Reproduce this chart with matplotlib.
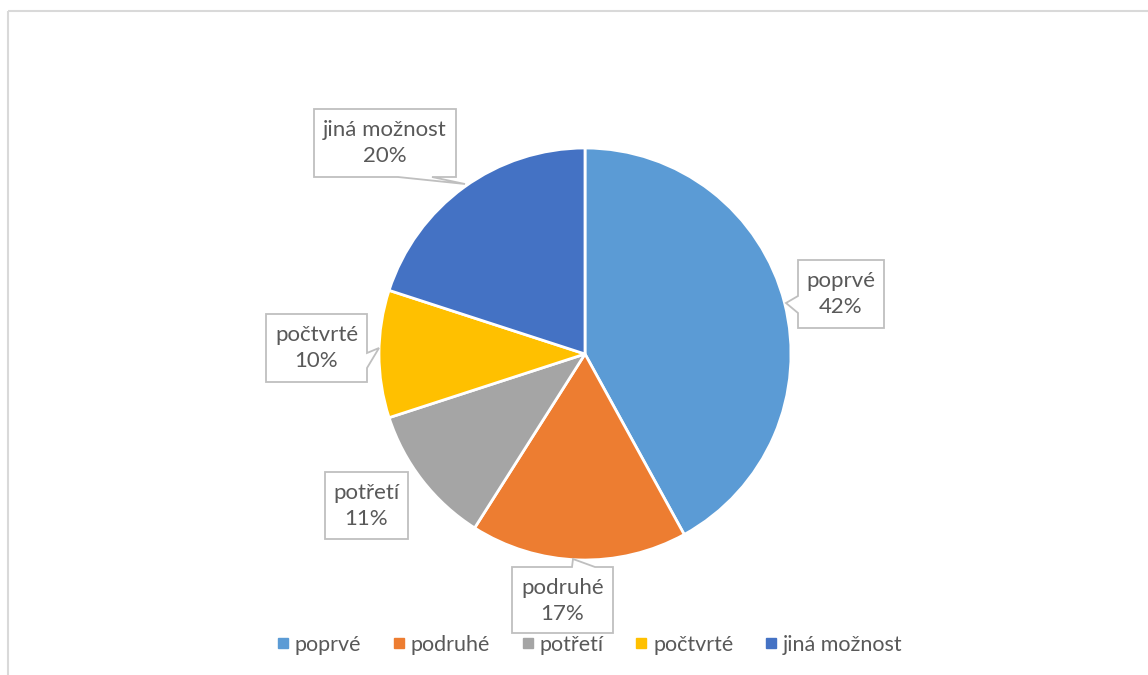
import matplotlib
matplotlib.use("Agg")
import matplotlib.pyplot as plt
from matplotlib.patches import Polygon
from matplotlib.lines import Line2D

categories = ["poprvé", "podruhé", "potřetí", "počtvrté", "jiná možnost"]
values = [42, 17, 11, 10, 20]
pct_labels = ["42%", "17%", "11%", "10%", "20%"]
colors = ["#5B9BD5", "#ED7D31", "#A5A5A5", "#FFC000", "#4472C4"]

W, H = 1148, 675
fig = plt.figure(figsize=(W / 100, H / 100), dpi=100)
ax = fig.add_axes([0, 0, 1, 1])

def py(y):
    return H - y

# chart border
ax.plot([8, W], [py(11), py(11)], color="#D9D9D9", lw=1.5, solid_capstyle="butt")
ax.plot([8, 8], [py(11), 0], color="#D9D9D9", lw=1.5, solid_capstyle="butt")

ax.pie(values, colors=colors, startangle=90, counterclock=False,
       center=(585, py(354)), radius=206, frame=True,
       wedgeprops=dict(edgecolor="white", linewidth=2))
ax.set_xlim(0, W)
ax.set_ylim(0, H)
ax.set_aspect("equal")
ax.axis("off")

FONT = "Lato"
TXT = "#595959"
FS = 16

# callout boxes: (x0, y0, x1, y1) in pixels, pointer spec
boxes = {
    "poprvé": ((798, 260, 884, 328), ("left", 296, 313, (786, 303))),
    "podruhé": ((512, 567, 613, 633), ("top", 572, 595, (573, 559))),
    "potřetí": ((325, 472, 408, 539), None),
    "počtvrté": ((266, 314, 367, 382), ("right", 353, 368, (379, 348))),
    "jiná možnost": ((314, 109, 456, 177), ("bottom", 398, 432, (465, 184))),
}

for cat, pct in zip(categories, pct_labels):
    (x0, y0, x1, y1), ptr = boxes[cat]
    pts = [(x0, y0), (x1, y0), (x1, y1), (x0, y1)]
    if ptr is not None:
        side, a, b, tip = ptr
        if side == "left":
            pts = [(x0, y0), (x1, y0), (x1, y1), (x0, y1), (x0, b), tip, (x0, a)]
        elif side == "right":
            pts = [(x0, y0), (x1, y0), (x1, a), tip, (x1, b), (x1, y1), (x0, y1)]
        elif side == "top":
            pts = [(x0, y0), (a, y0), tip, (b, y0), (x1, y0), (x1, y1), (x0, y1)]
        elif side == "bottom":
            pts = [(x0, y0), (x1, y0), (x1, y1), (b, y1), tip, (a, y1), (x0, y1)]
    poly = Polygon([(x, py(y)) for x, y in pts], closed=True,
                   facecolor="white", edgecolor="#BFBFBF", lw=1.3, zorder=5)
    ax.add_patch(poly)
    cx = (x0 + x1) / 2
    ax.text(cx, py(y0 + 21), cat, ha="center", va="center", fontsize=FS,
            family=FONT, color=TXT, zorder=6)
    ax.text(cx, py(y0 + 47), pct, ha="center", va="center", fontsize=FS,
            family=FONT, color=TXT, zorder=6)

handles = [Line2D([], [], marker="s", linestyle="none", markersize=7,
                  markerfacecolor=c, markeredgecolor=c) for c in colors]
leg = fig.legend(handles, categories, loc="center", ncol=5,
                 bbox_to_anchor=(590 / W, 1 - 645 / H), frameon=False,
                 prop=dict(family=FONT, size=15.5), handlelength=0.5,
                 handletextpad=0.3, columnspacing=1.5)
for t in leg.get_texts():
    t.set_color(TXT)

fig.savefig("out.png", dpi=100)
